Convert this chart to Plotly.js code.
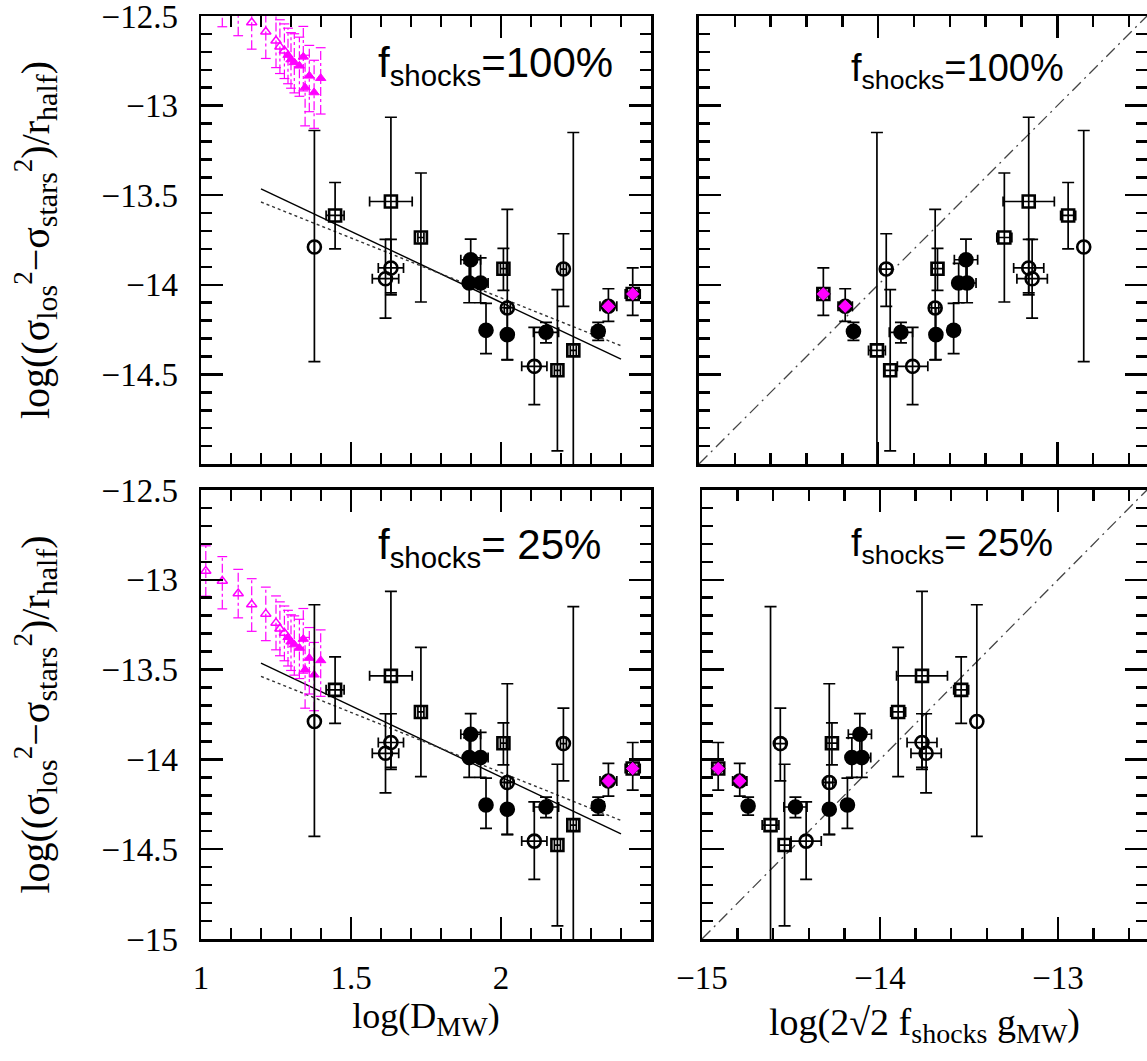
<!DOCTYPE html>
<html><head><meta charset="utf-8">
<script src="https://cdn.plot.ly/plotly-3.0.1.min.js"></script>
<style>html,body{margin:0;padding:0;background:#fff}#chart{width:1147px;height:1061px}</style>
</head><body><div id="chart"></div>
<script>
// ---------------- DATA ----------------
// Observed objects (same objects in all four panels)
const logD      = [1.378, 1.447, 1.633, 1.633, 1.615, 1.733, 1.899, 1.894, 1.932, 1.950, 2.008, 2.021, 2.021, 2.111, 2.150, 2.188, 2.208, 2.241, 2.324, 2.358, 2.439];
const logDErr   = [0.000, 0.030, 0.071, 0.042, 0.044, 0.010, 0.033, 0.010, 0.025, 0.000, 0.010, 0.010, 0.000, 0.042, 0.042, 0.010, 0.010, 0.010, 0.020, 0.028, 0.025];
const logAcc    = [-13.789, -13.613, -13.535, -13.906, -13.966, -13.736, -13.860, -13.990, -13.990, -14.254, -13.910, -14.129, -14.278, -14.455, -14.265, -14.477, -13.912, -14.366, -14.260, -14.120, -14.051];
const accErrUp  = [0.650, 0.184, 0.470, 0.160, 0.220, 0.360, 0.115, 0.110, 0.140, 0.150, 0.113, 0.550, 0.150, 0.218, 0.055, 0.450, 0.197, 1.216, 0.050, 0.098, 0.145];
const accErrDn  = [0.640, 0.187, 0.510, 0.150, 0.220, 0.360, 0.120, 0.110, 0.110, 0.130, 0.121, 0.290, 0.140, 0.213, 0.059, 0.450, 0.208, 0.700, 0.050, 0.084, 0.120];
// log(2 sqrt2 f_shocks g_MW) for f_shocks = 100% and 25%
const logTide100 = [-12.853, -12.940, -13.160, -13.160, -13.141, -13.296, -13.510, -13.551, -13.504, -13.579, -13.669, -13.682, -13.678, -13.808, -13.873, -13.933, -13.955, -14.007, -14.138, -14.184, -14.306];
const logTide25  = [-13.456, -13.544, -13.764, -13.764, -13.741, -13.898, -14.113, -14.158, -14.102, -14.183, -14.270, -14.285, -14.285, -14.415, -14.475, -14.536, -14.560, -14.615, -14.741, -14.788, -14.909];
const tideErr    = [0.000, 0.042, 0.143, 0.084, 0.085, 0.042, 0.065, 0.020, 0.050, 0.030, 0.030, 0.020, 0.020, 0.085, 0.065, 0.030, 0.030, 0.047, 0.030, 0.040, 0.030];
const objType    = ['open-circle','open-square','open-square','open-circle','open-circle','open-square','filled','filled','filled','filled','open-square','open-circle','filled','open-circle','filled','open-square','open-circle','open-square','filled','open-circle','open-square'];
const highlight  = [false,false,false,false,false,false,false,false,false,false,false,false,false,false,false,false,false,false,false,true,true];

// Magenta model triangles (left panels)
const triLogD    = [1.016, 1.071, 1.124, 1.169, 1.216, 1.250, 1.263, 1.278, 1.290, 1.300, 1.311, 1.328, 1.341, 1.361, 1.347, 1.377, 1.399];
const triAcc100  = [-12.349, -12.405, -12.474, -12.536, -12.588, -12.638, -12.671, -12.694, -12.718, -12.743, -12.759, -12.778, -12.728, -12.834, -12.899, -12.927, -12.847];
const triAcc25   = [-12.951, -13.007, -13.076, -13.138, -13.190, -13.240, -13.273, -13.296, -13.320, -13.345, -13.361, -13.380, -13.330, -13.436, -13.501, -13.529, -13.449];
const triErrUp   = [0.140, 0.136, 0.134, 0.144, 0.149, 0.150, 0.150, 0.150, 0.150, 0.150, 0.160, 0.160, 0.170, 0.170, 0.180, 0.180, 0.170];
const triErrDn   = [0.140, 0.155, 0.136, 0.149, 0.149, 0.150, 0.150, 0.155, 0.160, 0.160, 0.170, 0.170, 0.190, 0.200, 0.214, 0.200, 0.200];
const triFilled  = [false,false,false,false,false,false,false,false,true,true,true,true,true,true,true,true,true];

// Fit lines (left panels) and 1:1 line (right panels)
const fitLogD   = [1.2, 2.4];
const fitSolid  = [-13.464, -14.415];
const fitDotted = [-13.538, -14.340];
const oneToOne  = [-15, -12.5];

// Tick labels
const yTicksTop    = [-14.5, -14, -13.5, -13, -12.5];
const yTicksBottom = [-15, -14.5, -14, -13.5, -13, -12.5];
const xTicksLeft   = [1, 1.5, 2];
const xTicksRight  = [-15, -14, -13];

// ---------------- STYLE ----------------
const SERIF = '"Liberation Serif", "Times New Roman", serif';
const SANS  = '"Liberation Sans", Arial, sans-serif';
const MAG = '#ff00ff';

function idsOf(type){ return objType.map((t,i)=>t===type?i:-1).filter(i=>i>=0); }
function pick(arr, ids){ return ids.map(i=>arr[i]); }
const symbolFor = {
  'open-circle': {symbol:'circle-open', size:13},
  'open-square': {symbol:'square-open', size:12},
  'filled':      {symbol:'circle', size:13}
};

function objectTraces(xArr, xErrArr, xa, ya){
  const out = [];
  ['open-circle','open-square','filled'].forEach(t=>{
    const ids = idsOf(t);
    out.push({
      type:'scatter', mode:'markers', xaxis:xa, yaxis:ya, showlegend:false, hoverinfo:'skip',
      x: pick(xArr, ids), y: pick(logAcc, ids),
      marker:{symbol:symbolFor[t].symbol, size:symbolFor[t].size, color:'#000', line:{color:'#000', width:2.6}},
      error_x:{type:'data', array:pick(xErrArr, ids), color:'#000', thickness:1.7, width:5},
      error_y:{type:'data', symmetric:false, array:pick(accErrUp, ids), arrayminus:pick(accErrDn, ids), color:'#000', thickness:1.7, width:6}
    });
  });
  const hl = highlight.map((h,i)=>h?i:-1).filter(i=>i>=0);
  out.push({
    type:'scatter', mode:'markers', xaxis:xa, yaxis:ya, showlegend:false, hoverinfo:'skip',
    x: pick(xArr, hl), y: pick(logAcc, hl),
    marker:{symbol:'diamond', size:11, color:MAG, line:{color:'#000', width:0.8}}
  });
  return out;
}

function triangleTraces(yArr, xa, ya){
  const bx=[], by=[], cx=[], cy=[];
  triLogD.forEach((x,i)=>{
    const lo = yArr[i]-triErrDn[i], hi = yArr[i]+triErrUp[i];
    bx.push(x, x, null); by.push(lo, hi, null);
    cx.push(x, x); cy.push(lo, hi);
  });
  const openIds = triFilled.map((f,i)=>f?-1:i).filter(i=>i>=0);
  const fillIds = triFilled.map((f,i)=>f?i:-1).filter(i=>i>=0);
  return [
    {type:'scatter', mode:'lines', xaxis:xa, yaxis:ya, showlegend:false, hoverinfo:'skip',
     x:bx, y:by, line:{color:MAG, width:1.2, dash:'dashdot'}},
    {type:'scatter', mode:'markers', xaxis:xa, yaxis:ya, showlegend:false, hoverinfo:'skip',
     x:cx, y:cy, marker:{symbol:'line-ew-open', size:7, color:MAG, line:{color:MAG, width:1.2}}},
    {type:'scatter', mode:'markers', xaxis:xa, yaxis:ya, showlegend:false, hoverinfo:'skip',
     x:pick(triLogD, openIds), y:pick(yArr, openIds),
     marker:{symbol:'triangle-up-open', size:9, color:MAG, line:{color:MAG, width:1.5}}},
    {type:'scatter', mode:'markers', xaxis:xa, yaxis:ya, showlegend:false, hoverinfo:'skip',
     x:pick(triLogD, fillIds), y:pick(yArr, fillIds),
     marker:{symbol:'triangle-up', size:9, color:MAG, line:{color:MAG, width:1}}}
  ];
}

function fitTraces(xa, ya){
  return [
    {type:'scatter', mode:'lines', xaxis:xa, yaxis:ya, showlegend:false, hoverinfo:'skip',
     x:fitLogD, y:fitSolid, line:{color:'#000', width:1.4}},
    {type:'scatter', mode:'lines', xaxis:xa, yaxis:ya, showlegend:false, hoverinfo:'skip',
     x:fitLogD, y:fitDotted, line:{color:'#333', width:1.4, dash:'dot'}}
  ];
}
function unityTrace(xa, ya){
  return {type:'scatter', mode:'lines', xaxis:xa, yaxis:ya, showlegend:false, hoverinfo:'skip',
    x:oneToOne, y:oneToOne, line:{color:'#444', width:1.3, dash:'12px,5px,2px,5px'}};
}

const data = [].concat(
  fitTraces('x','y'), triangleTraces(triAcc100,'x','y'), objectTraces(logD, logDErr, 'x','y'),
  [unityTrace('x2','y2')], objectTraces(logTide100, tideErr, 'x2','y2'),
  fitTraces('x3','y3'), triangleTraces(triAcc25,'x3','y3'), objectTraces(logD, logDErr, 'x3','y3'),
  [unityTrace('x4','y4')], objectTraces(logTide25, tideErr, 'x4','y4')
);

function axis(extra){
  return Object.assign({
    showline:true, linecolor:'#000', linewidth:2.5, mirror:'allticks',
    ticks:'inside', ticklen:22, tickwidth:2.5, tickcolor:'#000',
    showgrid:false, zeroline:false, fixedrange:true, ticklabeloverflow:'allow',
    tickfont:{family:SERIF, size:33, color:'#000'}
  }, extra);
}
function minor(t0, dt){
  return {tickmode:'linear', tick0:t0, dtick:dt, ticks:'inside', ticklen:11, tickwidth:2.5, tickcolor:'#000', showgrid:false};
}
const SUB = s => '<sub><span style="font-size:30px">' + s + '</span></sub>';
const SUP = s => '<sup><span style="font-size:27px">' + s + '</span></sup>';
const yTitle = {text:'log((σ' + SUB('los') + SUP('2') + '−σ' + SUB('stars') + SUP('2') + ')/r' + SUB('half') + ')',
                font:{family:SERIF, size:40, color:'#000'}, standoff:40};
const XSUB = s => '<sub><span style="font-size:28px">' + s + '</span></sub>';

const LEFT = [0, 0.4757];
const TOP = [0.5146, 1], BOT = [0, 0.4865];

const layout = {
  width:1147, height:1061,
  margin:{l:201, r:0, t:16, b:122, pad:0},
  paper_bgcolor:'#fff', plot_bgcolor:'#fff',
  showlegend:false,
  xaxis: axis({domain:LEFT, range:[1,2.5], anchor:'y', tickmode:'array', tickvals:[1,1.5,2,2.5], showticklabels:false, minor:minor(1,0.1)}),
  yaxis: axis({domain:TOP, range:[-15,-12.5], anchor:'x', tickmode:'array', tickvals:yTicksTop, minor:minor(-15,0.1), ticklabelstandoff:14, title:yTitle}),
  xaxis2: axis({domain:[0.5264,1], range:[-15,-12.5], anchor:'y2', tickmode:'array', tickvals:xTicksRight, showticklabels:false, minor:minor(-15,0.2)}),
  yaxis2: axis({domain:TOP, range:[-15,-12.5], anchor:'x2', tickmode:'array', tickvals:yTicksBottom, showticklabels:false, minor:minor(-15,0.1)}),
  xaxis3: axis({domain:LEFT, range:[1,2.5], anchor:'y3', tickmode:'array', tickvals:xTicksLeft, minor:minor(1,0.1), ticklabelstandoff:8,
                title:{text:'log(D' + XSUB('MW') + ')', font:{family:SERIF, size:36, color:'#000'}, standoff:4}}),
  yaxis3: axis({domain:BOT, range:[-15,-12.5], anchor:'x3', tickmode:'array', tickvals:yTicksBottom, minor:minor(-15,0.1), ticklabelstandoff:14, title:yTitle}),
  xaxis4: axis({domain:[0.5296,1], range:[-15,-12.5], anchor:'y4', tickmode:'array', tickvals:xTicksRight, minor:minor(-15,0.2), ticklabelstandoff:8,
                title:{text:'log(2√2 f' + XSUB('shocks') + ' g' + XSUB('MW') + ')', font:{family:SERIF, size:38, color:'#000'}, standoff:14}}),
  yaxis4: axis({domain:BOT, range:[-15,-12.5], anchor:'x4', tickmode:'array', tickvals:yTicksBottom, showticklabels:false, minor:minor(-15,0.1)}),
  annotations:[
    {xref:'paper', yref:'paper', x:0.186, y:0.976, xanchor:'left', yanchor:'top', showarrow:false, borderpad:0,
     text:'f<sub>shocks</sub>=100%', font:{family:SANS, size:42, color:'#000'}},
    {xref:'paper', yref:'paper', x:0.686, y:0.9675, xanchor:'left', yanchor:'top', showarrow:false, borderpad:0,
     text:'f<sub>shocks</sub>=100%', font:{family:SANS, size:38, color:'#000'}},
    {xref:'paper', yref:'paper', x:0.186, y:0.454, xanchor:'left', yanchor:'top', showarrow:false, borderpad:0,
     text:'f<sub>shocks</sub>= 25%', font:{family:SANS, size:42, color:'#000'}},
    {xref:'paper', yref:'paper', x:0.686, y:0.453, xanchor:'left', yanchor:'top', showarrow:false, borderpad:0,
     text:'f<sub>shocks</sub>= 25%', font:{family:SANS, size:38, color:'#000'}}
  ]
};

Plotly.newPlot('chart', data, layout, {staticPlot:true, displayModeBar:false});
</script>
</body></html>
